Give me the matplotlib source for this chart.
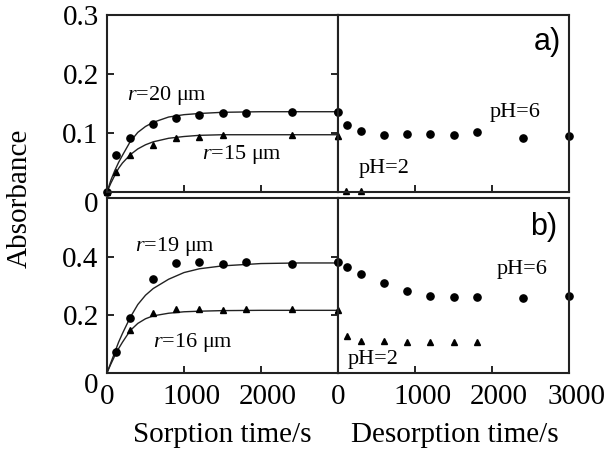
import matplotlib
matplotlib.use('Agg')
import matplotlib.pyplot as plt
from matplotlib.transforms import ScaledTranslation

plt.rcParams['font.family'] = ['Liberation Serif', 'DejaVu Serif']
plt.rcParams['mathtext.fontset'] = 'custom'
plt.rcParams['mathtext.rm'] = 'Liberation Serif'
plt.rcParams['mathtext.it'] = 'Liberation Serif:italic'

# ---- data ----
# a) sorption
a_sorp_t20 = [0, 120, 300, 600, 900, 1200, 1500, 1800, 2400, 3000]
a_sorp_r20 = [0.0, 0.063, 0.091, 0.115, 0.125, 0.131, 0.133, 0.133, 0.136, 0.136]
a_sorp_t15 = [0, 120, 300, 600, 900, 1200, 1500, 2400, 3000]
a_sorp_r15 = [0.0, 0.034, 0.063, 0.080, 0.091, 0.094, 0.096, 0.096, 0.095]
# a) desorption
a_des_t6 = [0, 120, 300, 600, 900, 1200, 1500, 1800, 2400, 3000]
a_des_ph6 = [0.136, 0.114, 0.103, 0.097, 0.098, 0.098, 0.097, 0.101, 0.092, 0.095]
a_des_t2 = [0, 100, 300]
a_des_ph2 = [0.095, 0.002, 0.002]

# b) sorption
b_sorp_t19 = [120, 300, 600, 900, 1200, 1500, 1800, 2400, 3000]
b_sorp_r19 = [0.072, 0.190, 0.324, 0.379, 0.383, 0.376, 0.383, 0.376, 0.383]
b_sorp_t16 = [120, 300, 600, 900, 1200, 1500, 1800, 2400, 3000]
b_sorp_r16 = [0.075, 0.148, 0.207, 0.220, 0.220, 0.217, 0.220, 0.220, 0.217]
# b) desorption
b_des_t6 = [0, 120, 300, 600, 900, 1200, 1500, 1800, 2400, 3000]
b_des_ph6 = [0.383, 0.365, 0.341, 0.310, 0.283, 0.266, 0.262, 0.262, 0.259, 0.266]
b_des_t2 = [0, 120, 300, 600, 900, 1200, 1500, 1800]
b_des_ph2 = [0.217, 0.128, 0.110, 0.110, 0.107, 0.105, 0.105, 0.107]

# fitted sorption curves
fit_t = [0, 50, 100, 150, 200, 300, 400, 500, 600, 800, 1000, 1200, 1500, 2000, 2500, 3000]
a_fit20 = [0, 0.020, 0.036, 0.050, 0.062, 0.085, 0.101, 0.111, 0.118, 0.127, 0.131, 0.133, 0.135, 0.136, 0.136, 0.136]
a_fit15 = [0, 0.015, 0.028, 0.040, 0.049, 0.063, 0.073, 0.080, 0.085, 0.091, 0.094, 0.096, 0.097, 0.097, 0.097, 0.097]
b_fit19 = [0, 0.035, 0.070, 0.105, 0.135, 0.190, 0.235, 0.267, 0.290, 0.322, 0.345, 0.358, 0.368, 0.376, 0.378, 0.378]
b_fit16 = [0, 0.030, 0.058, 0.083, 0.105, 0.145, 0.170, 0.186, 0.196, 0.205, 0.210, 0.212, 0.214, 0.215, 0.215, 0.215]

a_yticks = [0, 0.1, 0.2, 0.3]
a_ylabels = ['0', '0.1', '0.2', '0.3']
b_yticks = [0, 0.2, 0.4, 0.6]
b_ylabels = ['0', '0.2', '0.4', '']
x_ticks = [0, 1000, 2000, 3000]

fig = plt.figure(figsize=(6.08, 4.66), dpi=100)
W = 0.380
ax_a1 = fig.add_axes([0.176, 0.588, W, 0.380])
ax_a2 = fig.add_axes([0.176 + W, 0.588, W, 0.380])
ax_b1 = fig.add_axes([0.176, 0.200, W, 0.376])
ax_b2 = fig.add_axes([0.176 + W, 0.200, W, 0.376])

TS = 21
for ax in (ax_a1, ax_a2, ax_b1, ax_b2):
    ax.set_xlim(0, 3000)
    ax.set_xticks(x_ticks)
    ax.tick_params(direction='in', length=5, width=1.2, labelsize=TS, pad=8)
    for s in ax.spines.values():
        s.set_linewidth(1.5)
        s.set_color('#222222')

for ax in (ax_a1, ax_a2):
    ax.set_ylim(0, 0.3)
    ax.set_yticks(a_yticks)
    ax.tick_params(labelbottom=False)
for ax in (ax_b1, ax_b2):
    ax.set_ylim(0, 0.603)
    ax.set_yticks(b_yticks)

ax_a1.set_yticklabels(a_ylabels)
ax_b1.set_yticklabels(b_ylabels)
ax_a1.tick_params(axis='y', right=True, pad=6)
ax_b1.tick_params(axis='y', right=True, pad=6)
for ax in (ax_a2, ax_b2):
    ax.tick_params(axis='y', left=False, labelleft=False)

ax_b1.set_xticklabels(['0', '1000', '2000', ''])
ax_b2.set_xticklabels(['0', '1000', '2000', '3000'])

mk = dict(color='black', linestyle='none', clip_on=False)
# a) sorption
ax_a1.plot(fit_t, a_fit20, color='#222222', lw=1.0)
ax_a1.plot(fit_t, a_fit15, color='#222222', lw=1.0)
ax_a1.plot(a_sorp_t20, a_sorp_r20, marker='o', ms=5.2, **mk)
ax_a1.plot(a_sorp_t15, a_sorp_r15, marker='^', ms=5, **mk)
# a) desorption
ax_a2.plot(a_des_t6, a_des_ph6, marker='o', ms=5.2, **mk)
ax_a2.plot(a_des_t2, a_des_ph2, marker='^', ms=5, **mk)
# b) sorption
ax_b1.plot(fit_t, b_fit19, color='#222222', lw=1.0)
ax_b1.plot(fit_t, b_fit16, color='#222222', lw=1.0)
ax_b1.plot(b_sorp_t19, b_sorp_r19, marker='o', ms=5.2, **mk)
ax_b1.plot(b_sorp_t16, b_sorp_r16, marker='^', ms=5, **mk)
# b) desorption
ax_b2.plot(b_des_t6, b_des_ph6, marker='o', ms=5.2, **mk)
ax_b2.plot(b_des_t2, b_des_ph2, marker='^', ms=5, **mk)

AS = 16
ax_a1.text(260, 0.164, r'$r$=20 μm', fontsize=AS, va='center')
ax_a1.text(1230, 0.063, r'$r$=15 μm', fontsize=AS, va='center')
ax_a2.text(1970, 0.134, 'pH=6', fontsize=AS, va='center')
ax_a2.text(270, 0.040, 'pH=2', fontsize=AS, va='center')
ax_a2.text(2900, 0.254, 'a)', fontsize=22, family='Liberation Sans', ha='right', va='center')

ax_b1.text(360, 0.434, r'$r$=19 μm', fontsize=AS, va='center')
ax_b1.text(600, 0.103, r'$r$=16 μm', fontsize=AS, va='center')
ax_b2.text(2060, 0.355, 'pH=6', fontsize=AS, va='center')
ax_b2.text(130, 0.045, 'pH=2', fontsize=AS, va='center')
ax_b2.text(2840, 0.503, 'b)', fontsize=22, family='Liberation Sans', ha='right', va='center')

fig.text(0.033, 0.575, 'Absorbance', rotation=90, fontsize=21, ha='center', va='center')
fig.text(0.365, 0.067, 'Sorption time/s', fontsize=21, ha='center', va='center')
fig.text(0.748, 0.067, 'Desorption time/s', fontsize=21, ha='center', va='center')

# the zero labels sit a little lower than their ticks
for ax in (ax_a1, ax_b1):
    ax.get_yticklabels()[0].set_verticalalignment('top')
# non-zero x labels sit a little to the right of their ticks
shift = ScaledTranslation(7 / 100, 0, fig.dpi_scale_trans)
for ax in (ax_b1, ax_b2):
    for lab in ax.get_xticklabels()[1:]:
        lab.set_transform(lab.get_transform() + shift)

fig.savefig('out.png', dpi=100)
